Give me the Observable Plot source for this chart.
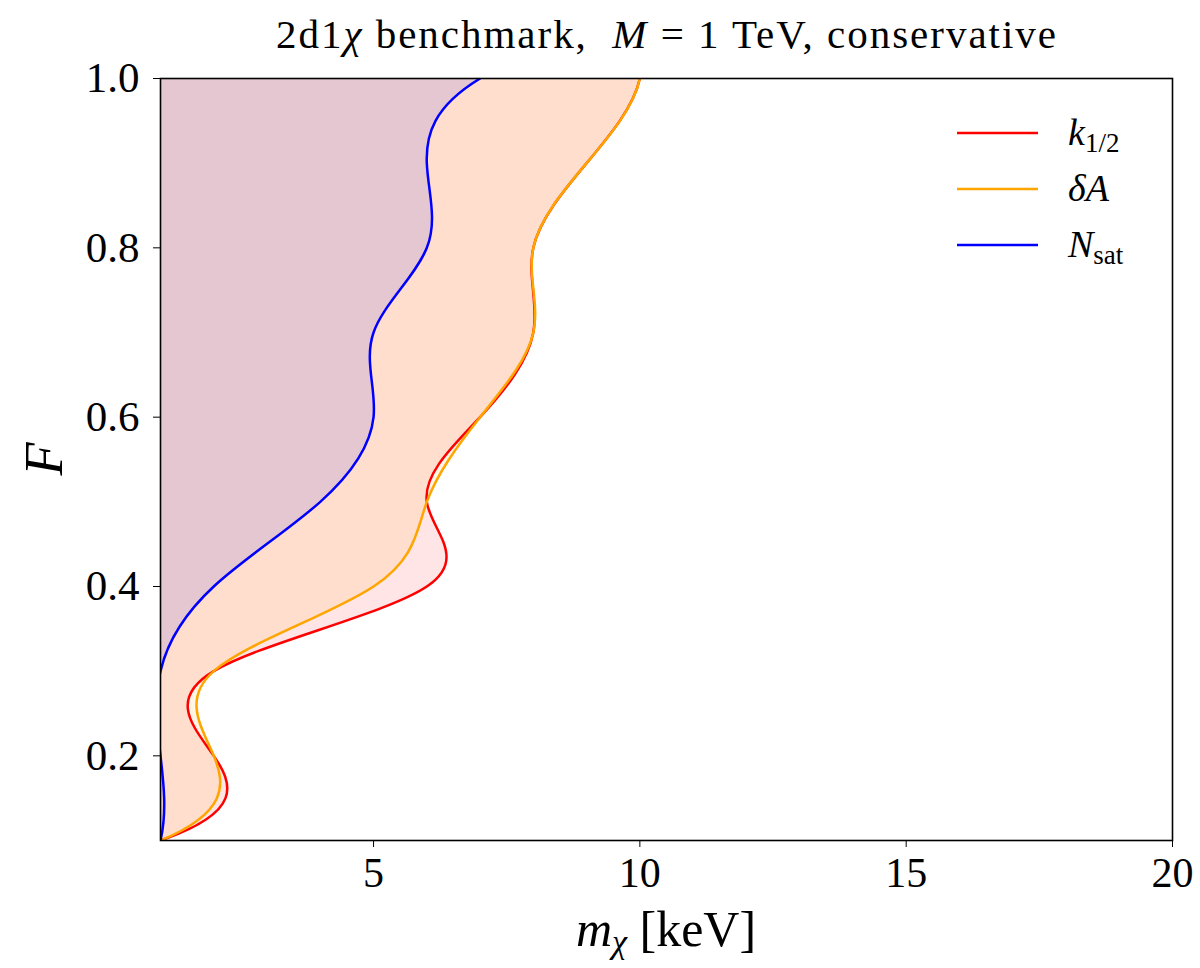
<!DOCTYPE html>
<html>
<head>
<meta charset="utf-8">
<script src="https://cdn.jsdelivr.net/npm/d3@7"></script>
<script src="https://cdn.jsdelivr.net/npm/@observablehq/plot@0.6"></script>
<style>
  html, body { margin: 0; padding: 0; background: #fff; }
  #chart { width: 1200px; height: 968px; }
  svg { font-family: "Liberation Serif", "DejaVu Serif", serif; }
</style>
</head>
<body>
<div id="chart"></div>
<script>
// F grid (y axis)
const F = [0.1, 0.2, 0.3, 0.4, 0.5, 0.6, 0.7, 0.8, 0.9, 1.0];
// m_chi [keV] values for each constraint
const k12  = [1, 2, 2, 6, 6, 7, 8, 8, 9, 10];
const dA   = [1, 2, 2, 5, 6, 7, 8, 8, 9, 10];
const Nsat = [1, 1, 1, 2, 4, 5, 5, 6, 6, 7];
const xTicks = [5, 10, 15, 20];
const yTicks = [0.2, 0.4, 0.6, 0.8, 1.0];

const series = [
  {key: "k", values: k12, color: "#ff0000"},
  {key: "dA", values: dA, color: "#ffa500"},
  {key: "N", values: Nsat, color: "#0000ff"}
];
const rows = s => F.map((f, i) => ({F: f, m: s.values[i]}));

// Not-a-knot cubic spline curve (like scipy's cubic interpolation), as a d3 curve factory
function solve(A, b) {
  const n = b.length;
  for (let c = 0; c < n; c++) {
    let p = c;
    for (let r = c + 1; r < n; r++) if (Math.abs(A[r][c]) > Math.abs(A[p][c])) p = r;
    [A[c], A[p]] = [A[p], A[c]]; [b[c], b[p]] = [b[p], b[c]];
    for (let r = c + 1; r < n; r++) {
      const f = A[r][c] / A[c][c];
      if (!f) continue;
      for (let k = c; k < n; k++) A[r][k] -= f * A[c][k];
      b[r] -= f * b[c];
    }
  }
  const x = new Array(n).fill(0);
  for (let r = n - 1; r >= 0; r--) {
    let s = b[r];
    for (let k = r + 1; k < n; k++) s -= A[r][k] * x[k];
    x[r] = s / A[r][r];
  }
  return x;
}
function derivs(y) {
  const n = y.length;
  if (n < 4) {
    return y.map((v, i) => i === 0 ? y[1] - y[0] : i === n - 1 ? y[n - 1] - y[n - 2] : (y[i + 1] - y[i - 1]) / 2);
  }
  const A = Array.from({length: n}, () => new Array(n).fill(0));
  const b = new Array(n).fill(0);
  A[0][0] = 1; A[0][2] = -1; b[0] = 2 * (2 * y[1] - y[0] - y[2]);
  for (let i = 1; i < n - 1; i++) {
    A[i][i - 1] = 1; A[i][i] = 4; A[i][i + 1] = 1; b[i] = 3 * (y[i + 1] - y[i - 1]);
  }
  A[n - 1][n - 3] = 1; A[n - 1][n - 1] = -1; b[n - 1] = 2 * (2 * y[n - 2] - y[n - 3] - y[n - 1]);
  return solve(A, b);
}
function NotAKnot(context) { this._context = context; }
NotAKnot.prototype = {
  areaStart() { this._line = 0; },
  areaEnd() { this._line = NaN; },
  lineStart() { this._x = []; this._y = []; },
  point(x, y) { this._x.push(+x); this._y.push(+y); },
  lineEnd() {
    const x = this._x, y = this._y, n = x.length, c = this._context;
    if (n) {
      this._line ? c.lineTo(x[0], y[0]) : c.moveTo(x[0], y[0]);
      if (n === 2) c.lineTo(x[1], y[1]);
      else if (n > 2) {
        const dx = derivs(x), dy = derivs(y);
        for (let i = 0; i < n - 1; i++) {
          c.bezierCurveTo(x[i] + dx[i] / 3, y[i] + dy[i] / 3, x[i + 1] - dx[i + 1] / 3, y[i + 1] - dy[i + 1] / 3, x[i + 1], y[i + 1]);
        }
      }
    }
    if (this._line || (this._line !== 0 && n === 1)) c.closePath();
    this._line = 1 - this._line;
    this._x = this._y = null;
  }
};
const curveNotAKnot = context => new NotAKnot(context);

const W = 1200, H = 968;
const mL = 160, mR = 28, mT = 78, mB = 128;

const marks = [];
series.forEach(s => {
  marks.push(Plot.areaX(rows(s), {y: "F", x1: 1, x2: "m", curve: curveNotAKnot, fill: s.color, fillOpacity: 0.1, clip: true}));
});
series.forEach(s => {
  marks.push(Plot.lineX(rows(s), {y: "F", x: "m", curve: curveNotAKnot, stroke: s.color, strokeWidth: 2.5, clip: true}));
});
marks.push(Plot.frame({stroke: "black", strokeWidth: 1.6}));
marks.push(Plot.axisX({ticks: xTicks, tickSize: 7, tickPadding: 10, fontSize: 42, label: null, tickFormat: d => String(d)}));
marks.push(Plot.axisY({ticks: yTicks, tickSize: 7, tickPadding: 14, fontSize: 43, label: null, tickFormat: d3.format(".1f")}));

const plot = Plot.plot({
  width: W, height: H,
  marginLeft: mL, marginRight: mR, marginTop: mT, marginBottom: mB,
  x: {domain: [1, 20]},
  y: {domain: [0.1, 1.0]},
  style: {fontFamily: "'Liberation Serif', 'DejaVu Serif', serif", color: "black", background: "white"},
  marks
});
document.getElementById("chart").appendChild(plot);

const svg = d3.select(plot);
// Title
const t = svg.append("text").attr("x", (mL + W - mR) / 2).attr("y", 48)
  .attr("text-anchor", "middle").attr("font-size", 41).attr("fill", "black")
  .attr("textLength", 780).attr("lengthAdjust", "spacing");
t.append("tspan").text("2d1");
t.append("tspan").attr("font-style", "italic").text("χ");
t.append("tspan").text(" benchmark,  ");
t.append("tspan").attr("font-style", "italic").text("M");
t.append("tspan").text(" = 1 TeV, conservative");

// x label
const xl = svg.append("text").attr("x", (mL + W - mR) / 2).attr("y", 946)
  .attr("text-anchor", "middle").attr("font-size", 50).attr("fill", "black");
xl.append("tspan").attr("font-style", "italic").text("m");
xl.append("tspan").attr("font-style", "italic").attr("font-size", 34).attr("dy", 7).text("χ");
xl.append("tspan").attr("dy", -7).text(" [keV]");

// y label
svg.append("text").attr("transform", `translate(62,${(mT + H - mB) / 2}) rotate(-90)`)
  .attr("text-anchor", "middle").attr("font-size", 54).attr("font-style", "italic").attr("fill", "black").text("F");

// Legend
const legY = [133, 189, 245];
const lg = svg.append("g").attr("text-anchor", "start");
series.forEach((s, i) => {
  lg.append("line").attr("x1", 957).attr("x2", 1038).attr("y1", legY[i]).attr("y2", legY[i])
    .attr("stroke", s.color).attr("stroke-width", 2.5);
  const tx = lg.append("text").attr("x", 1068).attr("y", legY[i] + 12).attr("font-size", 38)
    .attr("text-anchor", "start").attr("fill", "black");
  if (s.key === "k") {
    tx.append("tspan").attr("font-style", "italic").text("k");
    tx.append("tspan").attr("font-size", 27).attr("dy", 7).text("1/2");
  } else if (s.key === "dA") {
    tx.append("tspan").attr("font-style", "italic").text("δA");
  } else {
    tx.append("tspan").attr("font-style", "italic").text("N");
    tx.append("tspan").attr("font-size", 27).attr("dy", 7).text("sat");
  }
});
</script>
</body>
</html>
